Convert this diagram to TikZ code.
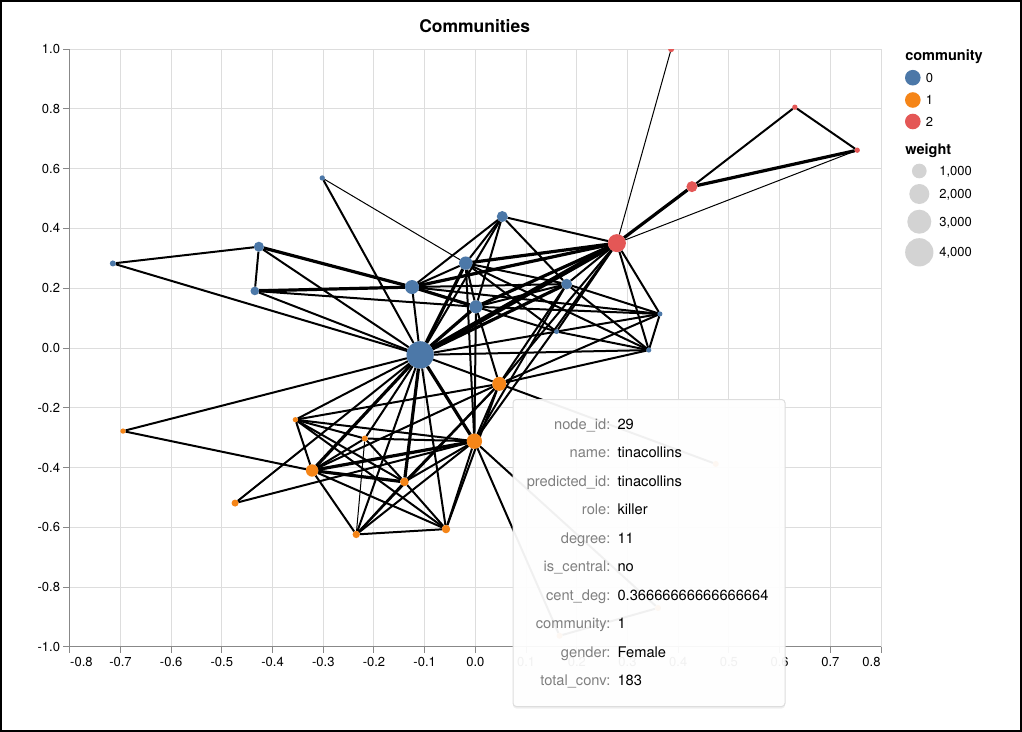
\documentclass[tikz,border=0pt]{standalone}
\usepackage{fontspec}
\setmainfont{TeX Gyre Heros}
\usepackage{tikz}
\usetikzlibrary{shadows}
\definecolor{comm0}{HTML}{4C78A8}
\definecolor{comm1}{HTML}{F58518}
\definecolor{comm2}{HTML}{E45756}
\definecolor{gridgray}{HTML}{DDDDDD}
\definecolor{domaingray}{HTML}{888888}
\definecolor{wgray}{HTML}{D3D3D3}
\definecolor{keygray}{HTML}{808080}
\newcommand{\ttlfont}{\fontsize{13.1pt}{15pt}\selectfont\bfseries}
\newcommand{\axfont}{\fontsize{9.75pt}{11pt}\selectfont}
\newcommand{\lgtfont}{\fontsize{10.9pt}{13pt}\selectfont\bfseries}
\newcommand{\lgfont}{\fontsize{9.75pt}{11pt}\selectfont}
\newcommand{\tipfont}{\fontsize{11pt}{13pt}\selectfont}
\pgfdeclarelayer{grid}
\pgfdeclarelayer{edges}
\pgfsetlayers{grid,edges,main}

\begin{document}
\begin{tikzpicture}[x=0.75pt,y=-0.75pt,
  dot/.style={circle,inner sep=0pt,outer sep=0pt},
  link/.style={line width=1.5pt},
  thinlink/.style={line width=0.75pt},
  thicklink/.style={line width=2.4pt},
  heavylink/.style={line width=3.6pt},
  gridline/.style={gridgray,line width=0.75pt},
  tick/.style={domaingray,line width=0.75pt},
  ticklabel/.style={inner sep=0pt,font=\axfont,text=black},
  tipbox/.style={draw=gridgray,line width=0.75pt,fill=white,fill opacity=0.94,rounded corners=2.5pt,inner sep=0pt,
    drop shadow={shadow xshift=0pt,shadow yshift=-1.5pt,opacity=0.12}},
  tipkey/.style={anchor=base east,inner sep=0pt,font=\tipfont,text=keygray},
  tipval/.style={anchor=base west,inner sep=0pt,font=\tipfont}]
\useasboundingbox (0,0) rectangle (1022,732);
\begin{pgfonlayer}{grid}
\fill[white] (0,0) rectangle (1022,732);
\end{pgfonlayer}
\draw[line width=1.5pt] (1,1) rectangle (1021,731);
\node[font=\ttlfont,anchor=base,inner sep=0pt] (title) at (474.7,32.7) {Communities};

% data frame: x in [-0.8,0.8], y in [-1,1]
\begin{scope}[shift={(475.4,348)},x=380.3pt,y=224.1pt]
\begin{pgfonlayer}{grid}
\foreach \v in {-0.8,-0.7,-0.6,-0.5,-0.4,-0.3,-0.2,-0.1,0.0,0.1,0.2,0.3,0.4,0.5,0.6,0.7,0.8}
  \draw[gridline] (\v,-1) -- (\v,1);
\foreach \v in {-1.0,-0.8,-0.6,-0.4,-0.2,0.0,0.2,0.4,0.6,0.8,1.0}
  \draw[gridline] (-0.8,\v) -- (0.8,\v);
\draw[tick] (-0.8,1) -- (-0.8,-1) -- (0.8,-1);
\foreach \v/\an [count=\i] in {-0.8/north west,-0.7/north,-0.6/north,-0.5/north,-0.4/north,-0.3/north,-0.2/north,-0.1/north,0.0/north,
  0.1/north,0.2/north,0.3/north,0.4/north,0.5/north,0.6/north,0.7/north,0.8/north east}
  \draw[tick] (\v,-1) -- ++(0pt,-4.9pt) node[ticklabel,anchor=\an,yshift=-2.5pt] (xlab\i) {\v};
\foreach \v [count=\i] in {1.0,0.8,0.6,0.4,0.2,0.0,-0.2,-0.4,-0.6,-0.8,-1.0}
  \draw[tick] (-0.8,\v) -- ++(-4.9pt,0pt) node[ticklabel,anchor=east,xshift=-2pt] (ylab\i) {\v};
\end{pgfonlayer}

% nodes, clipped to the frame
\begin{scope}
\clip (-0.8,-1) rectangle (0.8,1);
\foreach \nm/\px/\py/\sz in {b1/-0.715/0.283/4.5, b2/-0.427/0.339/7.5, b3/-0.435/0.191/6.5, b4/-0.302/0.569/4,
  b5/-0.125/0.204/10.5, b6/-0.019/0.284/10, b7/0.001/0.138/9.75, b8/-0.109/-0.023/20.5, b9/0.053/0.440/8.25,
  b10/0.180/0.214/8, b11/0.364/0.114/3.75, b12/0.160/0.055/3.75, b13/0.342/-0.007/3.75}
  \node[dot,fill=comm0,minimum size=\sz pt] (\nm) at (\px,\py) {};
\foreach \nm/\px/\py/\sz in {o1/-0.695/-0.278/4, o2/-0.355/-0.240/4, o3/-0.218/-0.303/4.5, o4/-0.322/-0.410/9.3,
  o5/-0.140/-0.448/6.5, o6/-0.474/-0.519/5.25, o7/-0.235/-0.624/5.5, o8/-0.058/-0.606/6.3, o9/-0.002/-0.312/11.5,
  o10/0.047/-0.120/10.5, o11/0.474/-0.388/4.5, o12/0.360/-0.870/4.5, o13/0.166/-0.963/4.5}
  \node[dot,fill=comm1,minimum size=\sz pt] (\nm) at (\px,\py) {};
\foreach \nm/\px/\py/\sz in {r1/0.279/0.351/13.5, r2/0.427/0.540/8.25, r3/0.386/1.0/4.5, r4/0.630/0.806/4, r5/0.753/0.662/4}
  \node[dot,fill=comm2,minimum size=\sz pt] (\nm) at (\px,\py) {};
\end{scope}

% connectors, under the nodes
\begin{pgfonlayer}{edges}
\foreach \a/\b in {b4/b6, r1/r3, r1/r5, o3/o7}
  \draw[thinlink] (\a) -- (\b);
\foreach \a/\b in {b1/b2, b1/b8, b2/b3, b2/b8, b3/b7, b3/b8, b4/b8, b5/b6, b5/b8, b5/b9, b5/b10, b5/b11,
  b6/b7, b6/b9, b6/b10, b6/b12, b6/b13, b7/b9, b7/b10, b7/b11, b7/b12, b8/b9, b8/b11, b8/b13, b9/b10,
  b10/b11, b10/b13, b11/b13, b12/b13, b12/r1, r1/b9, r1/b10, r1/b11, r1/b13, r1/o9, r1/o10, r2/r4, r4/r5,
  o1/b8, o2/b8, o3/b8, o6/b8, o7/b8, o8/b8, o10/b8, o9/b6, o9/b7, o9/b10, o10/b10, o10/b11, o10/b13, o10/b7,
  o1/o4, o2/o3, o2/o4, o2/o5, o2/o8, o2/o9, o2/o10, o3/o4, o3/o5, o3/o9, o4/o7, o4/o8, o4/o10, o5/o7,
  o5/o8, o5/o9, o5/o10, o6/o9, o7/o8, o7/o9, o7/o10, o8/o9, o8/o10, o9/o10, o9/o12, o9/o13, o10/o11, o12/o13}
  \draw[link] (\a) -- (\b);
\foreach \a/\b in {b2/b5, b3/b5, b5/b7, b6/b8, b7/b8, b8/b10, r1/b5, r1/b6, r1/b7, r1/r2, r2/r5,
  o4/b8, o5/b8, o4/o5, o4/o9, o9/b8}
  \draw[thicklink] (\a) -- (\b);
\draw[heavylink] (r1) -- (b8);
\end{pgfonlayer}
\end{scope}

% legend
\node[font=\lgtfont,anchor=base west,inner sep=0pt] (legcomm) at (905,60) {community};
\foreach \c/\py/\t in {comm0/77.7/0, comm1/100/1, comm2/121.5/2}{
  \node[dot,fill=\c,minimum size=11.7pt] (leg\t) at (912.8,\py) {};
  \node[font=\lgfont,anchor=west,inner sep=0pt] (leglab\t) at (925.5,\py) {\t};
}
\node[font=\lgtfont,anchor=base west,inner sep=0pt] (legweight) at (905,154) {weight};
\foreach \sz/\py/\t [count=\i] in {11/171/{1,000}, 15/194/{2,000}, 18/221.7/{3,000}, 21.2/252.3/{4,000}}{
  \node[dot,fill=wgray,minimum size=\sz pt] (wt\i) at (919.3,\py) {};
  \node[font=\lgfont,anchor=base west,inner sep=0pt] (wtlab\i) at (939,{\py+4.6}) {\t};
}

% tooltip
\node[tipbox,anchor=north west,minimum width=204pt,minimum height=230.25pt] (tip) at (512.5,399) {};
\foreach \k/\v [count=\i from 0] in {node\_id/29, name/tinacollins, predicted\_id/tinacollins, role/killer,
  degree/11, is\_central/no, cent\_deg/0.36666666666666664, community/1, gender/Female, total\_conv/183}{
  \node[tipkey] (tkey\i) at (610.7,{429.3+28.5*\i}) {\k:};
  \node[tipval] (tval\i) at (617.3,{429.3+28.5*\i}) {\v};
}
\end{tikzpicture}
\end{document}
